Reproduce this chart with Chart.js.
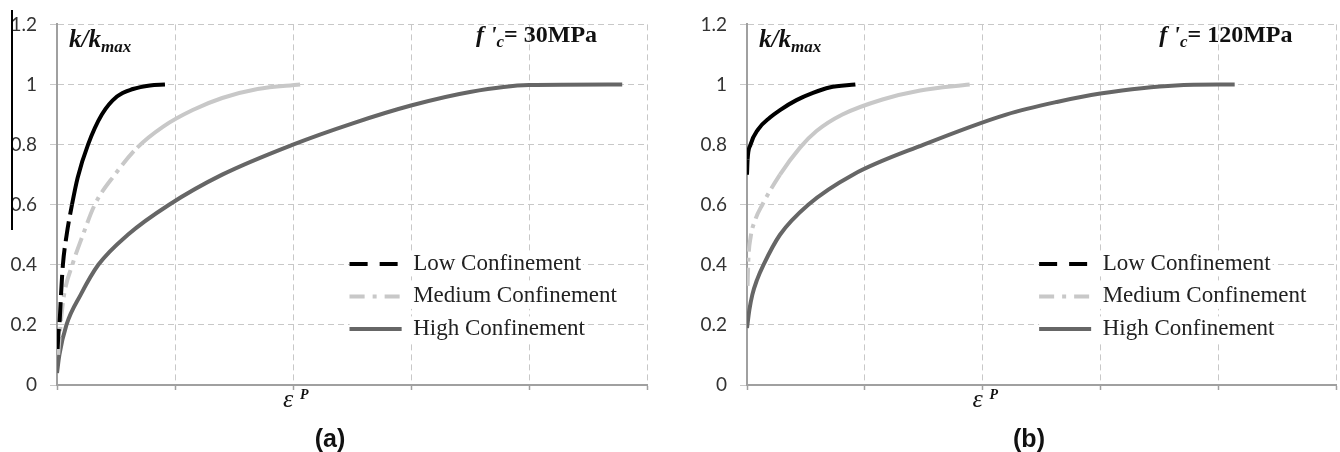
<!DOCTYPE html>
<html>
<head>
<meta charset="utf-8">
<script src="https://cdn.jsdelivr.net/npm/chart.js@4.4.1/dist/chart.umd.min.js"></script>
<style>
  body { margin: 0; background: #fff; width: 1340px; height: 452px; overflow: hidden; position: relative; }
  canvas { position: absolute; top: 0; }
  #chartA { left: 0; }
  #chartB { left: 690px; }
  .tag { position: absolute; top: 424px; line-height: 25px; transform: translateX(-50%);
         font: bold 25px "Liberation Sans", Arial, sans-serif; color: #111; }
  #scanEdge { position: absolute; left: 11px; top: 10px; width: 2px; height: 220px; background: #000; }
</style>
</head>
<body>
<canvas id="chartA" width="670" height="452"></canvas>
<canvas id="chartB" width="650" height="452"></canvas>
<div id="scanEdge"></div>
<div class="tag" style="left:330px">(a)</div>
<div class="tag" style="left:1029px">(b)</div>
<script>
// serie
const seriesNames = ['Low Confinement', 'Medium Confinement', 'High Confinement'];

// (a) f'c = 30MPa
const lowA_x  = [0.005, 0.012, 0.022, 0.034, 0.05, 0.082, 0.127, 0.175, 0.263, 0.38, 0.508, 0.644, 0.788, 0.915];
const lowA_y  = [0.12, 0.17, 0.21, 0.3, 0.4, 0.5, 0.6, 0.69, 0.8, 0.9, 0.96, 0.985, 0.997, 1.0];
const medA_x  = [0.01, 0.03, 0.06, 0.13, 0.22, 0.32, 0.49, 0.68, 0.9, 1.15, 1.4, 1.7, 2.06];
const medA_y  = [0.1, 0.2, 0.3, 0.4, 0.5, 0.6, 0.7, 0.79, 0.86, 0.915, 0.955, 0.985, 1.0];
const highA_x = [0, 0.02, 0.08, 0.2, 0.35, 0.6, 0.95, 1.4, 2.0, 2.5, 3.0, 3.5, 4.0, 4.79];
const highA_y = [0.04, 0.1, 0.2, 0.3, 0.4, 0.5, 0.6, 0.7, 0.8, 0.87, 0.93, 0.975, 0.998, 1.0];

// (b) f'c = 120MPa
const lowB_x  = [0, 0.005, 0.03, 0.093, 0.195, 0.28, 0.42, 0.56, 0.70, 0.92];
const lowB_y  = [0.70, 0.75, 0.8, 0.85, 0.89, 0.915, 0.948, 0.972, 0.99, 1.0];
const medB_x  = [0.005, 0.012, 0.03, 0.07, 0.13, 0.28, 0.45, 0.59, 0.81, 1.15, 1.47, 1.89];
const medB_y  = [0.33, 0.42, 0.49, 0.55, 0.6, 0.7, 0.79, 0.845, 0.9, 0.95, 0.98, 1.0];
const highB_x = [0, 0.02, 0.045, 0.085, 0.14, 0.28, 0.52, 0.9, 1.5, 2.2, 2.63, 3.0, 3.64, 4.14];
const highB_y = [0.19, 0.25, 0.3, 0.35, 0.4, 0.5, 0.6, 0.7, 0.8, 0.9, 0.942, 0.97, 0.997, 1.0];

// stile delle linee
const colors = ['#000000', '#c8c8c8', '#666666'];
const legendDash = [[18, 12], [15, 8, 4, 8], []];
const curveDash = [[20, 7], [18, 6, 4, 6], []];

function pts(xs, ys) {
    return xs.map((x, i) => ({ x: x, y: ys[i] }));
}

// sposta la legenda dentro il grafico, con sfondo bianco sopra la griglia
const legendBox = {
    id: 'legendBox',
    afterLayout(chart) {
        const lg = chart.legend;
        const xs = chart.scales.x, ys = chart.scales.y;
        lg.left = xs.getPixelForValue(2.48) - 9.5;
        lg.top = ys.getPixelForValue(0.403) - 11.5 - 9.5;
        lg.right = chart.chartArea.right;
        lg.bottom = chart.chartArea.bottom;
    },
    beforeDatasetsDraw(chart) {
        const lg = chart.legend;
        const ctx = chart.ctx;
        ctx.save();
        ctx.fillStyle = '#ffffff';
        lg.legendHitBoxes.forEach(b => ctx.fillRect(b.left, b.top - 1, b.width + 2, b.height + 2));
        ctx.restore();
        lg.draw();
    }
};

// testi: k/kmax, f'c, epsilon
const annotate = {
    id: 'annotate',
    afterDraw(chart, args, opts) {
        const ctx = chart.ctx;
        const a = chart.chartArea;
        const x = chart.scales.x;
        ctx.save();
        ctx.fillStyle = '#111';
        ctx.textBaseline = 'alphabetic';
        ctx.textAlign = 'left';

        let px = a.left + 12, py = a.top + 22.5;
        ctx.font = 'italic bold 25px "Liberation Serif"';
        ctx.fillText('k/k', px, py);
        px += ctx.measureText('k/k').width;
        ctx.font = 'italic bold 17px "Liberation Serif"';
        ctx.fillText('max', px, py + 5);

        px = x.getPixelForValue(opts.fcAt); py = a.top + 18;
        ctx.font = 'italic bold 24px "Liberation Serif"';
        ctx.fillText("f '", px, py);
        px += ctx.measureText("f '").width;
        ctx.font = 'italic bold 17px "Liberation Serif"';
        ctx.fillText('c', px, py + 5);
        px += ctx.measureText('c').width;
        ctx.font = 'bold 24px "Liberation Serif"';
        ctx.fillText('= ' + opts.strength, px, py);

        px = x.getPixelForValue(2) - 10; py = a.bottom + 22;
        ctx.font = 'italic 26px "Liberation Serif"';
        ctx.fillText('ε', px, py);
        ctx.font = 'italic bold 14px "Liberation Serif"';
        ctx.fillText('P', x.getPixelForValue(2) + 7, a.bottom + 14);
        ctx.restore();
    }
};

function makeChart(id, curves, dashLimits, strength, fcAt, yAxisWidth, padRight) {
    const datasets = curves.map((c, i) => ({
        label: seriesNames[i],
        data: pts(c[0], c[1]),
        borderColor: colors[i],
        borderWidth: 4,
        borderDash: legendDash[i],
        pointRadius: 0,
        fill: false,
        cubicInterpolationMode: 'monotone',
        segment: {
            borderDash: ctx => ctx.p1.parsed.y <= dashLimits[i] ? curveDash[i] : []
        }
    }));

    return new Chart(document.getElementById(id), {
        type: 'line',
        data: { datasets: datasets },
        plugins: [legendBox, annotate],
        options: {
            responsive: false,
            animation: false,
            devicePixelRatio: 1,
            layout: { padding: { top: 19, right: padRight, left: 0, bottom: 0 } },
            plugins: {
                tooltip: { enabled: false },
                annotate: { strength: strength, fcAt: fcAt },
                legend: {
                    position: 'chartArea',
                    align: 'start',
                    labels: {
                        usePointStyle: true,
                        pointStyle: 'line',
                        pointStyleWidth: 52,
                        padding: 9.5,
                        color: '#222',
                        font: { family: '"Liberation Serif"', size: 23 },
                        generateLabels: chart => {
                            const items = Chart.defaults.plugins.legend.labels.generateLabels(chart);
                            items.forEach((it, i) => {
                                it.lineDash = legendDash[i];
                                it.strokeStyle = colors[i];
                                it.lineWidth = 4;
                                it.pointStyle = 'line';
                            });
                            return items;
                        }
                    }
                }
            },
            scales: {
                x: {
                    type: 'linear',
                    min: 0,
                    max: 5,
                    ticks: { stepSize: 1, display: false },
                    grid: { color: '#c8c8c8', tickLength: 5, tickColor: '#a0a0a0', tickBorderDash: [], tickWidth: 1.5 },
                    border: { color: '#a0a0a0', width: 2, dash: [6, 4] },
                    afterFit: s => { s.height = 67; }
                },
                y: {
                    min: 0,
                    max: 1.2,
                    ticks: {
                        stepSize: 0.2,
                        padding: 13,
                        color: '#333',
                        font: { family: 'Lato', size: 19 },
                        callback: v => +v.toFixed(1)
                    },
                    grid: { color: '#c8c8c8', tickLength: 7, tickColor: '#c8c8c8', tickBorderDash: [6, 4] },
                    border: { color: '#a0a0a0', width: 2, dash: [6, 4] },
                    afterFit: s => { s.width = yAxisWidth; }
                }
            }
        }
    });
}

makeChart('chartA',
    [[lowA_x, lowA_y], [medA_x, medA_y], [highA_x, highA_y]],
    [0.62, 0.8, -1], '30MPa', 3.55, 57, 23);

makeChart('chartB',
    [[lowB_x, lowB_y], [medB_x, medB_y], [highB_x, highB_y]],
    [0.77, 0.76, -1], '120MPa', 3.5, 57, 4);
</script>
</body>
</html>
